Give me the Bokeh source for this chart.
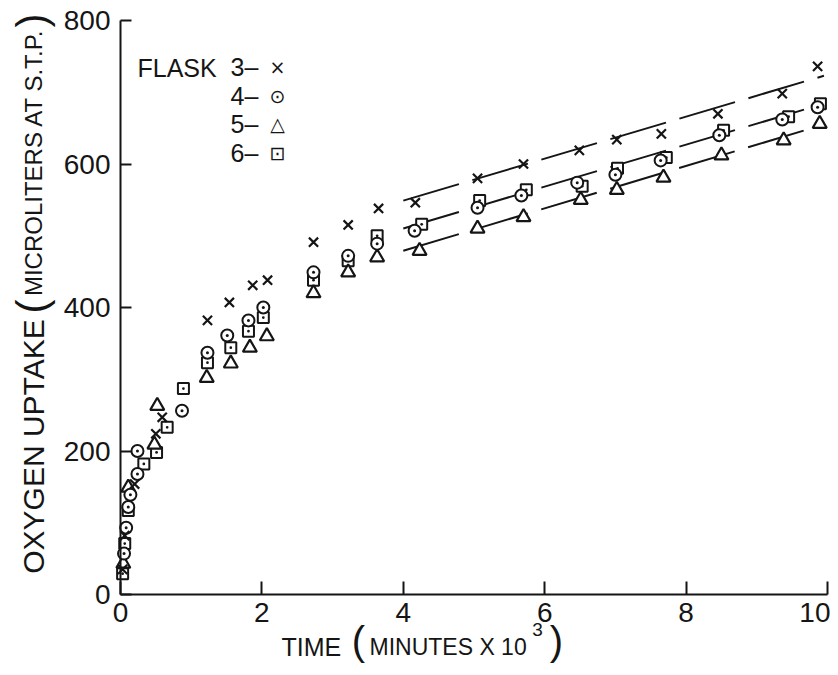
import math
from bokeh.plotting import figure
from bokeh.models import Range1d, FixedTicker, Label
from bokeh.embed import file_html
from bokeh.resources import INLINE

INK = "#151515"

# ---- data (time in minutes x 10^3, uptake in microliters) ----
f3_t = [0.03, 0.06, 0.20, 0.50, 0.59, 1.23, 1.54, 1.87, 2.08, 2.73, 3.22, 3.65, 4.17, 5.05, 5.70, 6.49, 7.02, 7.65, 8.45, 9.36, 9.86]
f3_v = [35, 82, 154, 224, 247, 382, 407, 431, 438, 491, 515, 538, 546, 580, 600, 619, 634, 642, 670, 698, 736]

f4_t = [0.05, 0.08, 0.11, 0.14, 0.24, 0.24, 0.87, 1.23, 1.51, 1.81, 2.02, 2.73, 3.22, 3.63, 4.16, 5.05, 5.67, 6.46, 7.00, 7.64, 8.47, 9.36, 9.86]
f4_v = [57, 93, 122, 139, 168, 200, 256, 337, 361, 382, 400, 449, 472, 489, 507, 539, 556, 574, 585, 605, 640, 662, 679]

f5_t = [0.04, 0.11, 0.48, 0.52, 1.22, 1.56, 1.83, 2.07, 2.73, 3.22, 3.63, 4.23, 5.05, 5.70, 6.51, 7.02, 7.68, 8.50, 9.38, 9.89]
f5_v = [43, 149, 209, 263, 302, 322, 344, 360, 420, 449, 470, 479, 510, 526, 550, 564, 581, 612, 633, 656]

f6_t = [0.03, 0.06, 0.11, 0.33, 0.51, 0.66, 0.89, 1.23, 1.56, 1.81, 2.02, 2.73, 3.22, 3.63, 4.26, 5.08, 5.74, 6.53, 7.03, 7.72, 8.53, 9.45, 9.90]
f6_v = [29, 71, 117, 182, 198, 233, 287, 323, 344, 367, 386, 438, 465, 500, 516, 549, 564, 569, 594, 609, 647, 666, 684]

# straight lines drawn through the later points
fit_t = [4.0, 9.95]
fit3_v = [549, 723]
fit46_v = [510, 684]
fit5_v = [479, 655]

x_ticks = [0, 2, 4, 6, 8, 10]
y_ticks = [0, 200, 400, 600, 800]

legend_nums = ["3\u2013", "4\u2013", "5\u2013", "6\u2013"]
legend_syms = ["\u00d7", "\u2299", "\u25b3", "\u22a1"]

# ---- layout: canvas pixel -> data (axes box: x 0..10 at px 120..827, y 0..800 at px 594..20)
W, H = 830, 667
AX_L, AX_T, AX_W, AX_H = 120, 20, 707, 574
def X(px):
    return (px - AX_L) / AX_W * 10.0
def Y(py):
    return (AX_T + AX_H - py) / AX_H * 800.0

p = figure(width=W, height=H, x_range=Range1d(X(0), X(W)), y_range=Range1d(Y(H), Y(0)),
           output_backend="svg", toolbar_location=None,
           min_border_left=0, min_border_right=0, min_border_top=0, min_border_bottom=0)
p.outline_line_color = None
p.grid.visible = False
p.background_fill_color = "white"
p.border_fill_color = "white"

xa, ya = p.xaxis[0], p.yaxis[0]
for ax in (xa, ya):
    ax.fixed_location = 0
    ax.axis_line_width = 2
    ax.axis_line_color = INK
    ax.major_tick_line_width = 2
    ax.major_tick_line_color = INK
    ax.major_tick_out = 0
    ax.minor_tick_line_color = None
    ax.major_label_text_font = "Liberation Sans"
    ax.major_label_text_font_size = "28px"
    ax.major_label_text_color = INK
xa.bounds = (0, 10)
ya.bounds = (0, 800)
xa.ticker = FixedTicker(ticks=x_ticks)
ya.ticker = FixedTicker(ticks=y_ticks)
xa.major_tick_in = 13
ya.major_tick_in = 11
xa.major_label_standoff = 8
ya.major_label_standoff = 10

dash = "58 14"
p.line(fit_t, fit3_v, line_color=INK, line_width=2, line_dash=dash)
p.line(fit_t, fit46_v, line_color=INK, line_width=2, line_dash=dash)
p.line(fit_t, fit5_v, line_color=INK, line_width=2, line_dash=dash)

p.scatter(f6_t, f6_v, marker="square_dot", size=11, line_color=INK, line_width=2, fill_color="white")
p.scatter(f5_t, f5_v, marker="triangle", size=14, line_color=INK, line_width=2.2, fill_color="white")
p.scatter(f4_t, f4_v, marker="circle_dot", size=12, line_color=INK, line_width=2, fill_color="white")
p.scatter(f3_t, f3_v, marker="x", size=13, line_color=INK, line_width=2.2)

def lab(px, py, text, size, font="Liberation Sans", align="center", angle=0.0):
    p.add_layout(Label(x=X(px), y=Y(py), text=text, text_font=font,
                       text_font_size=f"{size}px", text_color=INK, text_align=align,
                       text_baseline="middle", angle=angle))

# legend
lab(137, 67, "FLASK", 25, align="left")
rows = [66, 95, 123, 152]
for r, num, sym in zip(rows, legend_nums, legend_syms):
    lab(230, r, num, 25, align="left")
    lab(277, r, sym, 19, font="DejaVu Sans")

# x axis title
lab(281, 646, "TIME", 25, align="left")
lab(358, 640, "(", 40)
lab(369, 646, "MINUTES X 10", 23, align="left")
lab(537, 629, "3", 19)
lab(556, 640, ")", 40)

# y axis title (rotated)
R = math.pi / 2
lab(33, 446, "OXYGEN UPTAKE", 30, angle=R)
lab(31, 306, "(", 42, angle=R)
lab(33, 162, "MICROLITERS AT S.T.P.", 24, angle=R)
lab(31, 20, ")", 42, angle=R)

open("out.html", "w").write(file_html(p, INLINE))
